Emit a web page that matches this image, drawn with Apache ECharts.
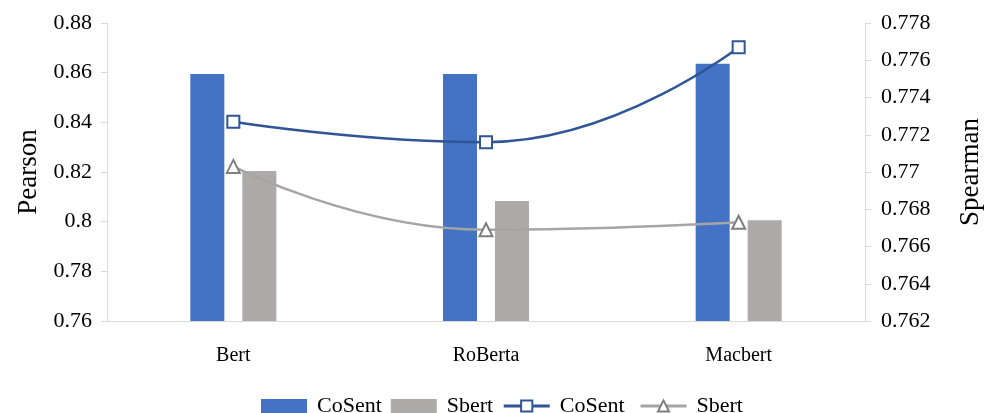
<!DOCTYPE html>
<html>
<head>
<meta charset="utf-8">
<script src="https://cdn.jsdelivr.net/npm/echarts@6/dist/echarts.min.js"></script>
<style>
  html, body { margin: 0; padding: 0; background: #fff; }
  #chart { width: 985px; height: 413px; }
</style>
</head>
<body>
<div id="chart"></div>
<script>
// 类别 / 数据
var categories = ['Bert', 'RoBerta', 'Macbert'];
var pearsonCoSent = [0.8595, 0.8595, 0.8636];
var pearsonSbert = [0.8204, 0.8083, 0.8006];
var spearmanCoSent = [0.7727, 0.7716, 0.7767];
var spearmanSbert = [0.7703, 0.7669, 0.7673];

var font = 'Liberation Serif';
var axisGray = '#d9d9d9';

var option = {
    textStyle: { fontFamily: font },
    animation: false,
    legend: {
        top: 390,
        left: 256,
        itemWidth: 46,
        itemHeight: 14,
        itemGap: 9,
        textStyle: { fontFamily: font, fontSize: 22, color: '#000', padding: [0, 0, 0, 5] },
        data: [
            { name: 'CoSent', icon: 'rect' },
            { name: 'Sbert', icon: 'rect' },
            { name: 'CoSent ', lineStyle: { width: 3 } },
            { name: 'Sbert ', lineStyle: { width: 3 } }
        ]
    },
    grid: { left: 107, right: 120, top: 23, bottom: 92, outerBoundsMode: 'none', containLabel: false },
    xAxis: {
        type: 'category',
        data: categories,
        axisLine: { lineStyle: { color: axisGray, width: 1 } },
        axisTick: { show: false },
        axisLabel: { color: '#000', fontSize: 20, fontFamily: font, margin: 25 }
    },
    yAxis: [
        {
            type: 'value',
            name: 'Pearson',
            nameLocation: 'middle',
            nameGap: 63,
            nameTextStyle: { fontSize: 27, color: '#000', fontFamily: font },
            min: 0.76, max: 0.88, interval: 0.02,
            axisLine: { show: true, lineStyle: { color: axisGray } },
            axisTick: { show: true, length: 6, lineStyle: { color: axisGray } },
            splitLine: { show: false },
            axisLabel: { color: '#000', fontSize: 22, fontFamily: font, margin: 15 }
        },
        {
            type: 'value',
            name: 'Spearman',
            nameLocation: 'middle',
            nameGap: 92,
            nameRotate: 90,
            nameTextStyle: { fontSize: 27, color: '#000', fontFamily: font },
            min: 0.762, max: 0.778, interval: 0.002,
            axisLine: { show: true, lineStyle: { color: axisGray } },
            axisTick: { show: true, length: 6, lineStyle: { color: axisGray } },
            splitLine: { show: false },
            axisLabel: { color: '#000', fontSize: 22, fontFamily: font, margin: 16 }
        }
    ],
    series: [
        {
            name: 'CoSent',
            type: 'bar',
            yAxisIndex: 0,
            barWidth: 34,
            barGap: '53%',
            itemStyle: { color: '#4472c4' },
            data: pearsonCoSent
        },
        {
            name: 'Sbert',
            type: 'bar',
            yAxisIndex: 0,
            barWidth: 34,
            barGap: '53%',
            itemStyle: { color: '#aeaaaa' },
            data: pearsonSbert
        },
        {
            name: 'CoSent ',
            type: 'line',
            yAxisIndex: 1,
            smooth: 0.5,
            symbol: 'rect',
            symbolSize: 12,
            z: 5,
            lineStyle: { color: '#2f5597', width: 2.5 },
            itemStyle: { color: '#fff', borderColor: '#2f5597', borderWidth: 2 },
            data: spearmanCoSent
        },
        {
            name: 'Sbert ',
            type: 'line',
            yAxisIndex: 1,
            smooth: 0.5,
            symbol: 'triangle',
            symbolSize: 13,
            z: 5,
            lineStyle: { color: '#a5a5a5', width: 2.5 },
            itemStyle: { color: '#fff', borderColor: '#7f7f7f', borderWidth: 2 },
            data: spearmanSbert
        }
    ]
};

var chart = echarts.init(document.getElementById('chart'));
chart.setOption(option, true);
</script>
</body>
</html>
